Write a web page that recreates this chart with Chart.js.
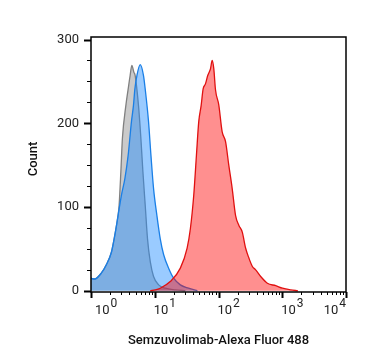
<!DOCTYPE html>
<html>
<head>
<meta charset="utf-8">
<script src="https://cdn.jsdelivr.net/npm/chart.js@4.4.1/dist/chart.umd.min.js"></script>
<style>
  html, body { margin: 0; padding: 0; background: #fff; }
  #wrap { width: 367px; height: 364px; position: relative; }
</style>
</head>
<body>
<div id="wrap"><canvas id="c" width="367" height="364"></canvas></div>
<script>
'use strict';

// --- data (x = fluorescence, y = count) ---
const isoX   = [1.00, 1.14, 1.45, 1.74, 2.09, 2.36, 2.66, 2.76, 2.94, 3.11, 3.52, 3.83, 4.11, 4.37, 4.70, 4.93, 5.56, 6.06, 6.52, 7.09, 7.70, 8.49, 9.58, 11.5, 14.6, 21.0, 30.2];
const isoY   = [15,   14,   21,   31,   46,   66,   90,   102,  142,  182,  221,  241,  257,  269,  261,  257,  221,  182,  142,  102,  62,   35,   17,   7,    3,    1,    0];

const lowX   = [1.00, 1.14, 1.45, 1.74, 2.09, 2.36, 2.66, 3.00, 3.40, 3.83, 4.31, 4.63, 4.88, 5.25, 5.91, 6.66, 7.08, 7.99, 8.71, 9.58, 10.8, 12.2, 13.8, 16.5, 19.8, 25.2, 33.8, 46.7];
const lowY   = [15,   14,   21,   31,   46,   66,   90,   114,  134,  162,  202,  221,  241,  257,  270,  257,  241,  202,  162,  122,  90,   62,   43,   27,   15,   7,    3,    0];

const stainX = [8.5, 10.2, 12.2, 17.5, 25.2, 32.2, 36.2, 40.9, 45.1, 49.0, 53.4, 57.4, 62.4, 67.8, 74.8, 79.6, 84.4, 89.7, 101, 114, 129, 145, 164, 185, 209, 236, 266, 300, 340, 383, 459, 584, 790, 1007, 1361, 1754];
const stainY = [0,   1,    3,    11,   27,   51,   74,   114,  162,  202,  221,  241,  247,  257,  265,  275,  265,  240,  222, 190, 178, 150, 122, 90,  78,  70,  51,  39,  29,  25,  17,  9,   6,   3,    1,    0];

const xDecades = [0, 1, 2, 3, 4];
const yMajor = [0, 100, 200, 300];

const pts = (xs, ys) => xs.map((x, i) => ({ x, y: ys[i] }));

const FONT = 'Roboto, "Liberation Sans", Arial, sans-serif';

// axis decorations: ticks, exponent labels, frame
const axisDeco = {
  id: 'axisDeco',
  afterDraw(chart) {
    const { ctx, chartArea: a, scales: { x, y } } = chart;
    ctx.save();
    ctx.strokeStyle = '#000';
    ctx.fillStyle = '#222';

    // frame
    ctx.lineWidth = 1.5;
    ctx.strokeRect(a.left, a.top, a.right - a.left, a.bottom - a.top);

    // x ticks
    for (const d of xDecades) {
      for (let m = 1; m <= 9; m++) {
        if (d === 4 && m > 1) break;
        const px = Math.round(x.getPixelForValue(m * Math.pow(10, d))) + 0.5;
        const len = m === 1 ? 6 : 3;
        ctx.lineWidth = m === 1 ? 2 : 1;
        ctx.beginPath();
        ctx.moveTo(px, a.bottom);
        ctx.lineTo(px, a.bottom + len);
        ctx.stroke();
      }
    }
    // y ticks
    for (let v = 0; v <= 300; v += 25) {
      const py = Math.round(y.getPixelForValue(v)) + 0.5;
      const major = v % 100 === 0;
      ctx.lineWidth = major ? 2 : 1;
      ctx.beginPath();
      ctx.moveTo(a.left - (major ? 7 : 4), py);
      ctx.lineTo(a.left, py);
      ctx.stroke();
    }

    // y labels
    ctx.font = '13px ' + FONT;
    ctx.textAlign = 'right';
    ctx.textBaseline = 'middle';
    for (const v of yMajor) ctx.fillText(String(v), a.left - 12, y.getPixelForValue(v));

    // x labels 10^n
    ctx.textBaseline = 'alphabetic';
    ctx.textAlign = 'left';
    for (const d of xDecades) {
      ctx.font = '13px ' + FONT;
      const base = '10';
      const bw = ctx.measureText(base).width;
      ctx.font = '12px ' + FONT;
      const ew = ctx.measureText(String(d)).width;
      const tw = bw + 1 + ew;
      let lx = x.getPixelForValue(Math.pow(10, d)) - 1;
      lx = Math.max(lx, a.left + 4);
      if (lx + tw > a.right) lx = a.right - tw;
      ctx.font = '13px ' + FONT;
      ctx.fillText(base, lx, 314);
      ctx.font = '12px ' + FONT;
      ctx.fillText(String(d), lx + bw + 1, 307);
    }

    // axis titles
    ctx.fillStyle = '#111';
    ctx.font = '500 13px ' + FONT;
    ctx.textAlign = 'center';
    ctx.fillText('Semzuvolimab-Alexa Fluor 488', (a.left + a.right) / 2, 344);
    ctx.translate(37, 159);
    ctx.rotate(-Math.PI / 2);
    ctx.fillText('Count', 0, 0);
    ctx.restore();
  }
};

new Chart(document.getElementById('c'), {
  type: 'line',
  data: {
    datasets: [
      { label: 'Isotype', data: pts(isoX, isoY), borderColor: '#808080', backgroundColor: 'rgba(150,150,150,0.5)', fill: 'origin', order: 3 },
      { label: 'Low', data: pts(lowX, lowY), borderColor: '#1a7fe6', backgroundColor: 'rgba(30,140,255,0.45)', fill: 'origin', order: 2 },
      { label: 'Stained', data: pts(stainX, stainY), borderColor: '#e01010', backgroundColor: 'rgba(255,0,0,0.44)', fill: 'origin', order: 1 }
    ]
  },
  options: {
    responsive: false,
    animation: false,
    devicePixelRatio: 1,
    layout: { padding: { left: 91, right: 21, top: 37, bottom: 72 } },
    elements: {
      point: { radius: 0 },
      line: { borderWidth: 1.3, tension: 0.35, cubicInterpolationMode: 'monotone' }
    },
    plugins: { legend: { display: false }, tooltip: { enabled: false } },
    scales: {
      x: {
        type: 'logarithmic', min: 1, max: 10000,
        ticks: { display: false },
        grid: { display: false, drawTicks: false },
        border: { display: false }
      },
      y: {
        type: 'linear', min: -1.5, max: 303,
        ticks: { display: false },
        grid: { display: false, drawTicks: false },
        border: { display: false }
      }
    }
  },
  plugins: [axisDeco]
});
</script>
</body>
</html>
